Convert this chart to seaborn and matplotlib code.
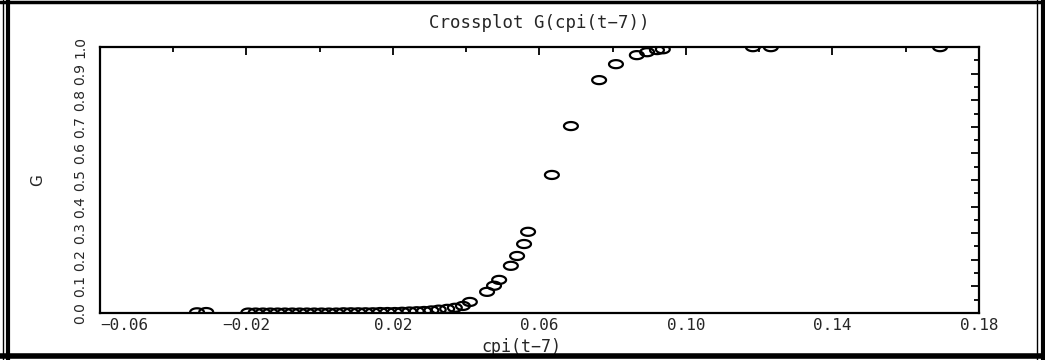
import numpy as np
import pandas as pd
import matplotlib
matplotlib.use("Agg")
import matplotlib.pyplot as plt
import matplotlib.path as mpath
from matplotlib.lines import Line2D
from matplotlib.ticker import MultipleLocator
import seaborn as sns

cpi_lag = [-0.0335, -0.0310,
           -0.0195, -0.0175, -0.0155, -0.0135, -0.0115, -0.0095, -0.0075, -0.0055,
           -0.0035, -0.0015, 0.0005, 0.0025, 0.0045, 0.0065, 0.0085, 0.0105,
           0.0125, 0.0145, 0.0165, 0.0185, 0.0205, 0.0225, 0.0245, 0.0265,
           0.0285, 0.0305, 0.0325, 0.0348, 0.0369, 0.0391, 0.0410,
           0.0457, 0.0476, 0.0490, 0.0522, 0.0539, 0.0558, 0.0569,
           0.0634, 0.0686, 0.0763, 0.0809, 0.0866, 0.0894, 0.0921, 0.0937,
           0.1183, 0.1232, 0.1694]
g_value = [0.002, 0.003,
           0.001, 0.001, 0.001, 0.001, 0.001, 0.001, 0.001, 0.001,
           0.001, 0.001, 0.001, 0.001, 0.001, 0.002, 0.002, 0.002,
           0.002, 0.002, 0.003, 0.003, 0.003, 0.004, 0.005, 0.006,
           0.007, 0.009, 0.012, 0.015, 0.019, 0.026, 0.041,
           0.079, 0.102, 0.124, 0.177, 0.214, 0.259, 0.305,
           0.519, 0.703, 0.876, 0.936, 0.970, 0.981, 0.989, 0.992,
           1.000, 1.000, 1.000]

x_ticks = [-0.06, -0.02, 0.02, 0.06, 0.10, 0.14, 0.18]
x_tick_labels = ["\u22120.06", "\u22120.02", "0.02", "0.06", "0.10", "0.14", "0.18"]
y_ticks = [0.0, 0.1, 0.2, 0.3, 0.4, 0.5, 0.6, 0.7, 0.8, 0.9, 1.0]
y_tick_labels = ["0.0", "0.1", "0.2", "0.3", "0.4", "0.5", "0.6", "0.7", "0.8", "0.9", "1.0"]

df = pd.DataFrame({"cpi": cpi_lag, "G": g_value})

sns.set_style("white")
plt.rcParams["font.family"] = ["DejaVu Sans Mono", "DejaVu Sans"]

fig = plt.figure(figsize=(10.45, 3.6), dpi=100)
ax = fig.add_axes([0.0957, 0.131, 0.841, 0.738])

# flat open ellipse like the old plotting package
t = np.linspace(0, 2 * np.pi, 41)
ellipse = mpath.Path(np.column_stack([np.cos(t), 0.58 * np.sin(t)]), closed=True)

sns.scatterplot(data=df, x="cpi", y="G", ax=ax, marker=ellipse, s=100,
                facecolors="none", edgecolors="black", linewidth=1.6, legend=False)

ax.set_xlim(-0.06, 0.18)
ax.set_ylim(0.0, 1.0)
ax.set_xticks(x_ticks)
ax.set_xticklabels(x_tick_labels, fontsize=11.5)
ax.get_xticklabels()[0].set_horizontalalignment("left")
ax.set_yticks(y_ticks)
ax.set_yticklabels(y_tick_labels, rotation=90, va="center", ha="center",
                   family="DejaVu Sans", fontsize=10)
ax.xaxis.set_minor_locator(MultipleLocator(0.02))
ax.yaxis.set_minor_locator(MultipleLocator(0.05))
ax.tick_params(which="both", direction="in", top=True, right=True,
               color="black", width=1.3)
ax.tick_params(which="major", length=6)
ax.tick_params(which="minor", length=3.5)
ax.tick_params(axis="y", pad=14)
ax.tick_params(axis="x", pad=4)
for sp in ax.spines.values():
    sp.set_color("black")
    sp.set_linewidth(1.6)

ax.set_title("Crossplot G(cpi(t\u22127))", fontsize=12.5, pad=14)
ax.set_xlabel("cpi(t\u22127)", fontsize=12)
ax.set_ylabel("G", fontsize=11, family="DejaVu Sans")
ax.xaxis.set_label_coords(0.479, -0.095)
ax.yaxis.set_label_coords(-0.062, 0.5)

# window frame around the figure
W, H = 1045.0, 360.0
def frame_line(x0, y0, x1, y1, lw):
    fig.add_artist(Line2D([x0 / W, x1 / W], [1 - y0 / H, 1 - y1 / H],
                          transform=fig.transFigure, color="black", lw=lw))

frame_line(0, 1.5, W, 1.5, 2.5)
frame_line(0, 356, W, 356, 4.0)
frame_line(2.5, 0, 2.5, H, 1.0)
frame_line(8, 0, 8, H, 3.0)
frame_line(1036.5, 0, 1036.5, H, 1.0)
frame_line(1042.5, 0, 1042.5, H, 3.0)

fig.savefig("out.png", dpi=100)
